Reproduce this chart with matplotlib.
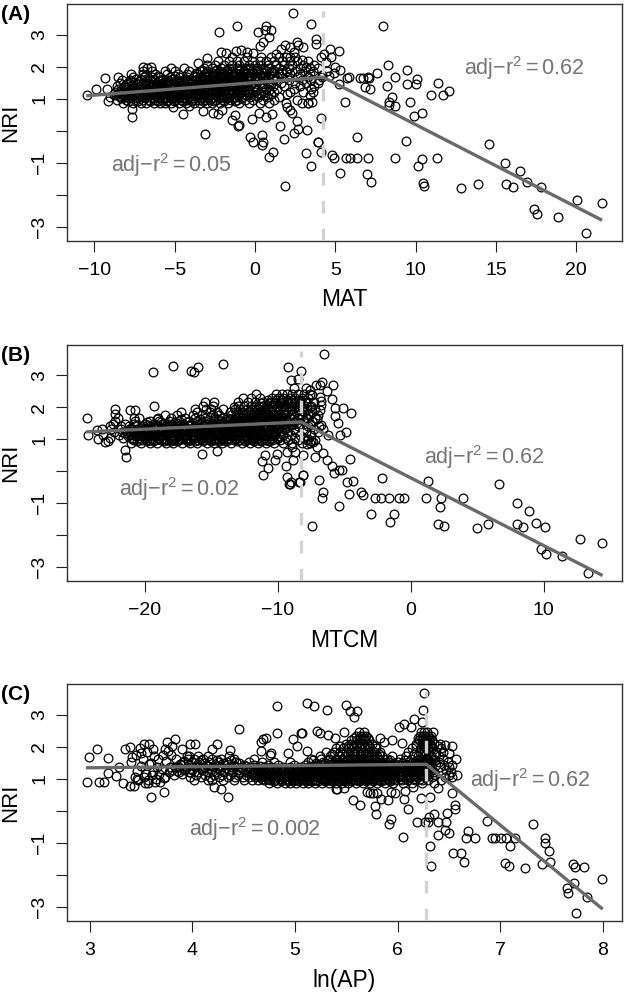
import matplotlib
matplotlib.use('Agg')
import numpy as np
import matplotlib.pyplot as plt

plt.rcParams['font.family'] = ['Liberation Sans', 'DejaVu Sans']
plt.rcParams['mathtext.fontset'] = 'custom'
plt.rcParams['mathtext.rm'] = 'Liberation Sans'
plt.rcParams['mathtext.default'] = 'rm'

W, H = 625, 992
GREY = '#6a6a6a'

# sparse points, read one by one
mat_x = [3.48, 7.97, 3.8, 3.78, 5.25, 4.67, 8.3, 9.46, 7.59, 8.71, 10.1, 9.48, 10.04, 8.19, 11.39, 12.07, 10.93, 11.72, 8.55,
         8.34, 9.63, 8.69, 8.34, 10.41, 9.87, 5.62, 7.16, 6.85, 6.53, 6.74, 7.03, 7.12, 5.87, 5.7, 5.25, 6.37, 9.4, 14.56,
         7.05, 6.37, 5.91, 5.64, 4.81, 4.9, 8.71, 10.41, 11.31, 10.12, 5.31, 7.0, 7.2, 10.46, 10.5, 12.8, 13.88, 15.56, 16.47,
         16.91, 15.64, 16.06, 17.82, 20.02, 21.58, 17.39, 17.55, 18.86, 20.58,
         2.39, -1.1, -2.24, 0.67, 0.17, 0.62, 0.98, 0.89, 0.52, 0.31, 2.6, 3.01, 2.7, 1.87, -2.14, -1.83, -1.18, -0.89, -0.52,
         -0.1, -3.01, -3.53, -6.95, -6.49, -9.36, -10.48, -9.9, -9.13, -7.65, -7.68, -4.5, -5.12, -4.1, -3.26, -2.59, -2.28,
         -2.07, -1.45, -1.24, -1.02, -1.06, -3.13, -0.2, 0.23, 0.69, 1.04, 1.56, -0.31, -0.1, 0.46, 0.48, 0.44, 1.79, 2.43,
         2.66, 2.64, 3.24, 4.09, 3.94, 3.92, 3.18, 4.11, 0.89, 1.14, 3.49, 1.85, 1.97, 2.28, 2.15, 2.9, 3.53, 3.4, 3.6, 3.3,
         4.3, 4.1, 4.4, 4.7, 5.0, 4.9, 4.5, 3.7, 3.9, 4.2, 4.6, 5.3, 3.2, 2.9, 2.4, 2.2, 1.6, 1.3]
mat_y = [3.35, 3.27, 2.87, 2.72, 2.49, 2.55, 2.06, 1.9, 1.8, 1.67, 1.6, 1.45, 1.45, 1.41, 1.5, 1.24, 1.13, 1.13, 1.06,
         0.91, 0.91, 0.77, 0.79, 0.56, 0.45, 0.89, 1.29, 1.35, 1.66, 1.65, 1.69, 1.65, 1.69, 1.65, 1.46, -0.21, -0.33, -0.42,
         -0.85, -0.87, -0.87, -0.87, -0.75, -0.85, -0.85, -0.88, -0.85, -1.1, -1.33, -1.34, -1.6, -1.63, -1.74, -1.79, -1.68, -1.02, -1.27,
         -1.62, -1.68, -1.76, -1.76, -2.16, -2.25, -2.44, -2.6, -2.69, -3.19,
         3.68, 3.28, 3.1, 3.28, 3.1, 3.15, 3.15, 2.92, 2.76, 2.66, 2.78, 2.63, 2.68, 2.68, 2.47, 2.42, 2.5, 2.52, 2.45,
         2.44, 2.26, 2.12, 2.0, 2.0, 1.66, 1.13, 1.29, 0.94, 0.67, 0.44, 0.52, 0.75, 0.77, 0.63, 0.54, 0.52,
         0.65, 0.33, 0.49, 0.18, 0.13, -0.12, 0.35, 0.56, 0.44, 0.51, 0.16, -0.19, -0.37, -0.14, -0.36, -0.45, -0.27, -0.08,
         0.04, 0.31, 0.02, 0.39, -0.34, -0.37, -0.71, -0.67, -0.83, -0.66, -1.1, -1.73, 0.75, 0.54, 0.65, 0.85, 0.91, 1.1, 1.2, 0.88,
         2.4, 2.3, 2.15, 2.3, 2.0, 1.8, 1.85, 2.05, 1.95, 1.75, 1.7, 1.9, 2.0, 2.2, 2.45, 2.6, 2.55, 2.4]

# NRI rows through the dense cloud, x estimated along each row
mat_rows = [0.88, 0.97, 1.05, 1.14, 1.22, 1.31, 1.4, 1.49, 1.58, 1.67, 1.76, 1.85, 1.95, 2.05, 2.17, 2.3,
            0.93, 1.01, 1.1, 1.18, 1.27, 1.36, 1.45, 1.54, 1.63, 1.72, 1.81, 1.91]
mat_row_x = [
    [-8.2, -7.6, -7.1, -6.8, -6.3, -5.9, -5.6, -5.2, -4.7, -4.3, -3.8, -3.4, -3.0, -2.7, -2.2, -1.7, -1.0, -0.4, 0.3, 0.9, 1.9, 3.3],
    [-8.6, -8.0, -7.4, -7.0, -6.6, -6.2, -5.8, -5.4, -5.0, -4.6, -4.2, -3.9, -3.5, -3.1, -2.8, -2.4, -2.0, -1.5, -1.1, -0.6, -0.1, 0.5, 1.2, 2.6],
    [-9.0, -8.4, -8.1, -7.7, -7.3, -7.0, -6.7, -6.4, -6.0, -5.7, -5.3, -5.1, -4.8, -4.4, -4.1, -3.7, -3.3, -3.0, -2.6, -2.3, -1.9, -1.6, -1.2, -0.8, -0.3, 0.2, 0.8, 1.5],
    [-8.8, -8.3, -7.9, -7.5, -7.2, -6.9, -6.5, -6.1, -5.8, -5.5, -5.2, -4.9, -4.5, -4.2, -3.8, -3.6, -3.2, -2.9, -2.5, -2.1, -1.8, -1.4, -1.0, -0.7, -0.2, 0.4, 1.0, 2.0],
    [-8.7, -8.2, -7.8, -7.4, -7.1, -6.7, -6.4, -6.0, -5.7, -5.4, -5.0, -4.7, -4.3, -4.0, -3.7, -3.4, -3.1, -2.7, -2.4, -2.0, -1.7, -1.3, -0.9, -0.5, 0.0, 0.6, 1.2, 2.2, 3.0],
    [-9.2, -8.5, -8.0, -7.6, -7.3, -6.9, -6.6, -6.2, -5.9, -5.6, -5.2, -4.8, -4.5, -4.2, -3.9, -3.5, -3.2, -2.8, -2.5, -2.2, -1.8, -1.5, -1.1, -0.8, -0.4, 0.1, 0.7, 1.4, 2.4, 3.5],
    [-8.6, -8.1, -7.7, -7.2, -6.8, -6.5, -6.1, -5.7, -5.3, -5.0, -4.6, -4.3, -3.9, -3.6, -3.3, -2.9, -2.6, -2.3, -1.9, -1.6, -1.2, -0.9, -0.5, 0.0, 0.5, 1.1, 1.8, 2.8, 3.7],
    [-8.4, -7.9, -7.4, -7.0, -6.6, -6.1, -5.8, -5.4, -5.1, -4.7, -4.4, -4.0, -3.7, -3.4, -3.0, -2.7, -2.4, -2.0, -1.7, -1.3, -1.0, -0.6, -0.2, 0.3, 0.9, 1.6, 2.5, 3.2, 3.9],
    [-8.3, -7.8, -7.1, -6.7, -6.2, -5.8, -5.5, -4.9, -4.5, -4.1, -3.7, -3.3, -3.0, -2.6, -2.3, -1.9, -1.6, -1.2, -0.8, -0.4, 0.0, 0.6, 1.3, 2.1, 2.9, 3.5, 4.0],
    [-8.5, -7.6, -6.9, -6.4, -5.9, -5.3, -4.7, -4.2, -3.8, -3.4, -3.0, -2.7, -2.3, -2.0, -1.6, -1.3, -0.9, -0.5, 0.0, 0.5, 0.8, 1.4, 2.0, 2.6, 3.3, 4.2],
    [-7.7, -7.0, -6.2, -5.5, -4.8, -4.2, -3.6, -3.1, -2.8, -2.4, -2.0, -1.7, -1.3, -1.0, -0.6, -0.1, 0.3, 0.9, 1.5, 2.2, 2.8, 3.4],
    [-7.0, -6.4, -5.6, -5.0, -4.1, -3.4, -3.0, -2.5, -2.2, -1.8, -1.4, -1.0, -0.7, -0.2, 0.2, 0.7, 1.2, 1.9, 2.5, 3.1, 3.6],
    [-6.7, -5.2, -4.4, -3.2, -2.7, -2.1, -1.6, -1.1, -0.6, -0.3, 0.1, 0.5, 0.9, 1.5, 2.1, 2.8, 3.4],
    [-3.0, -2.5, -1.9, -1.4, -1.0, -0.4, 0.0, 0.4, 0.8, 1.3, 1.8, 2.3, 3.0],
    [-2.3, -1.6, -1.1, -0.7, -0.2, 0.3, 0.7, 1.2, 1.7, 2.2, 2.6, 3.3],
    [-1.4, -0.5, 0.4, 1.0, 1.5, 1.9, 2.2, 2.5],
    [-7.9, -7.25, -6.55, -6.05, -5.45, -5.05, -4.45, -3.95, -3.25, -2.55, -1.95, -1.25],
    [-8.25, -7.85, -7.35, -6.85, -6.35, -5.95, -5.55, -5.15, -4.75, -4.35, -3.85, -3.45, -2.95, -2.65, -2.15, -1.75, -1.35, -0.85],
    [-8.65, -7.95, -7.55, -7.15, -6.75, -6.25, -5.85, -5.25, -4.85, -4.25, -3.75, -3.35, -3.05, -2.45, -2.05, -1.55, -1.15, -0.55, 0.05, 0.6],
    [-8.45, -8.05, -7.65, -7.05, -6.45, -6.15, -5.65, -5.35, -4.95, -4.55, -4.15, -3.55, -3.15, -2.75, -2.35, -1.85, -1.45, -0.95, -0.35, 0.25],
    [-8.35, -7.75, -7.45, -6.95, -6.65, -6.3, -5.75, -5.5, -4.9, -4.65, -4.05, -3.65, -3.35, -2.85, -2.25, -1.95, -1.5, -1.05, -0.45, 0.15, 0.85],
    [-8.15, -7.5, -7.0, -6.6, -6.1, -5.65, -5.25, -4.8, -4.4, -3.95, -3.45, -3.1, -2.65, -2.3, -1.85, -1.4, -0.95, -0.65, -0.05, 0.55],
    [-8.0, -7.35, -6.85, -6.4, -5.85, -5.45, -4.95, -4.5, -4.1, -3.55, -3.25, -2.75, -2.45, -2.05, -1.45, -1.1, -0.75, -0.25, 0.35, 1.0],
    [-7.7, -7.2, -6.5, -5.95, -5.35, -4.75, -4.25, -3.85, -3.45, -2.95, -2.55, -2.15, -1.75, -1.35, -0.85, -0.3, 0.2, 0.85],
    [-7.4, -6.55, -5.75, -5.15, -4.35, -3.6, -3.15, -2.85, -2.4, -2.1, -1.7, -1.15, -0.7, -0.25, 0.25, 1.1],
    [-6.85, -6.05, -4.95, -3.75, -3.2, -2.9, -2.5, -2.15, -1.65, -1.25, -0.8, -0.35, 0.15, 0.65, 1.2],
    [-3.7, -3.05, -2.6, -2.2, -1.5, -1.2, -0.75, -0.15, 0.55, 1.05, 1.7],
    [-3.3, -2.45, -1.75, -0.95, -0.45, 0.05, 0.6, 1.1, 1.65],
]
mat_fit_x = [-10.5, 4.25, 21.6]
mat_fit_y = [1.09, 1.67, -2.8]
mat_break = 4.25

mtcm_x = [-6.52, -8.25, -9.2, -6.69, -6.84, -5.82, -6.27, -5.92, -6.82, -6.72, -6.74, -6.84, -5.72, -5.11, -4.49, -5.67, -5.49,
          -7.07, -6.74, -6.62, -6.19, -5.32, -4.89, -7.7, -7.32, -7.07, -6.57, -7.2, -6.32, -5.94, -4.56, -5.77, -5.36, -5.14,
          -6.89, -8.07, -8.32, -9.07, -6.59, -6.69, -4.76, -4.36, -4.64, -3.74, -3.61, -2.18, -2.66, -2.23, -1.61, -0.9, -0.48,
          -5.36, -2.98, -1.23, -1.56, -7.4, 1.33, 1.13, 2.28, 2.23, 3.93, 2.08, 2.53, 4.96, 5.79, 6.67, 8.02, 8.87, 7.99, 8.42,
          9.45, 10.12, 12.71, 14.36, 9.77, 10.2, 11.4, 13.31,
          -24.36, -24.24, -23.49, -23.61, -22.98, -22.73, -22.23, -22.23, -21.48, -21.41, -21.11, -20.73, -20.8, -19.28, -19.38,
          -17.87, -16.54, -16.27, -15.97, -14.11, -15.67, -14.54, -11.08, -10.76, -11.16, -10.2, -10.95, -10.08, -9.4, -9.33,
          -9.12, -9.03, -8.37, -8.82, -9.33, -8.7, -8.95, -8.07, -7.8, -8.5, -9.0, -8.8, -7.9, -7.6, -7.4, -7.5, -7.1, -8.1]
mtcm_y = [3.68, 3.14, 3.26, 2.79, 2.69, 2.69, 2.5, 2.27, 2.32, 2.19, 2.06, 1.91, 1.97, 1.97, 1.82, 1.73, 1.5,
          1.62, 1.44, 1.33, 1.12, 1.12, 1.24, 1.02, 0.92, 0.76, 0.58, 0.45, 0.34, 0.17, 0.37, -0.07, 0.03, 0.03,
          -0.27, -0.13, -0.33, -0.39, -0.65, -0.83, -0.34, -0.32, -0.71, -0.65, -0.75, -0.2, -0.84, -0.85, -0.85, -0.85, -0.85,
          -1.1, -1.33, -1.34, -1.59, -1.72, -0.32, -0.85, -0.85, -1.11, -0.85, -1.66, -1.72, -1.78, -1.67, -0.41, -1.01, -1.26, -1.67, -1.74,
          -1.61, -1.75, -2.14, -2.25, -2.43, -2.58, -2.67, -3.18,
          1.66, 1.13, 1.02, 1.28, 0.92, 0.94, 1.94, 1.8, 0.66, 0.44, 1.91, 1.91, 1.65, 2.05, 3.1,
          3.28, 3.13, 3.1, 3.26, 3.34, 0.53, 0.64, -0.13, 0.11, 0.31, 0.34, 0.52, 0.55, 0.17, -0.18,
          -0.39, -0.33, -0.33, 0.34, 0.6, 0.6, 0.76, 0.52, 0.85, 2.9, 2.85, 2.6, 2.6, 2.55, 2.4, 0.95, 2.7, -0.13]

mtcm_rows = [0.88, 0.97, 1.05, 1.14, 1.22, 1.31, 1.4, 1.49, 1.58, 1.67, 1.76, 1.85, 1.95, 2.05, 2.17, 2.3, 2.42,
             0.93, 1.01, 1.1, 1.18, 1.27, 1.36, 1.45, 1.54, 1.63, 1.8, 2.0, 2.12, 2.24]
mtcm_row_x = [
    [-21.0, -20.3, -19.6, -19.1, -18.4, -17.9, -17.2, -16.6, -16.1, -15.3, -14.8, -14.2, -13.5, -12.7, -12.1, -11.5, -10.9, -10.3, -9.6, -8.9, -8.2, -7.6],
    [-20.8, -20.2, -19.7, -19.2, -18.8, -18.3, -17.8, -17.4, -16.9, -16.5, -16.0, -15.6, -15.1, -14.7, -14.2, -13.7, -13.3, -12.8, -12.3, -11.9, -11.4, -10.9, -10.4, -9.8, -9.2, -8.5, -7.8, -7.2],
    [-22.6, -21.6, -20.9, -20.4, -19.9, -19.5, -19.0, -18.6, -18.1, -17.7, -17.2, -16.8, -16.3, -15.9, -15.4, -15.0, -14.5, -14.1, -13.6, -13.2, -12.7, -12.3, -11.8, -11.4, -11.0, -10.5, -10.0, -9.4, -8.7, -8.0],
    [-23.1, -21.9, -21.2, -20.6, -20.1, -19.6, -19.2, -18.7, -18.3, -17.8, -17.4, -16.9, -16.5, -16.0, -15.6, -15.2, -14.7, -14.3, -13.8, -13.4, -12.9, -12.5, -12.0, -11.6, -11.1, -10.7, -10.2, -9.6, -9.0, -8.3, -7.5],
    [-22.3, -21.7, -21.0, -20.5, -20.0, -19.4, -19.0, -18.5, -18.0, -17.6, -17.1, -16.7, -16.2, -15.8, -15.3, -14.9, -14.4, -14.0, -13.5, -13.1, -12.6, -12.2, -11.7, -11.3, -10.8, -10.4, -9.9, -9.3, -8.6, -7.9, -7.0],
    [-23.2, -22.5, -21.8, -21.1, -20.6, -20.0, -19.5, -19.1, -18.6, -18.2, -17.7, -17.3, -16.8, -16.4, -15.9, -15.5, -15.0, -14.6, -14.2, -13.7, -13.3, -12.8, -12.4, -11.9, -11.5, -11.0, -10.6, -10.1, -9.5, -8.8, -8.1, -7.3],
    [-22.6, -21.8, -21.2, -20.7, -20.1, -19.6, -19.1, -18.5, -18.1, -17.6, -17.1, -16.6, -16.2, -15.7, -15.2, -14.8, -14.3, -13.9, -13.4, -13.0, -12.5, -12.1, -11.6, -11.2, -10.7, -10.3, -9.8, -9.2, -8.5, -7.7, -6.9],
    [-22.4, -21.5, -20.8, -20.0, -19.3, -18.7, -18.2, -17.7, -17.1, -16.5, -15.9, -15.4, -14.9, -14.4, -14.0, -13.5, -13.1, -12.6, -12.2, -11.8, -11.3, -10.9, -10.4, -10.0, -9.5, -8.9, -8.3, -7.6],
    [-22.2, -20.7, -19.6, -18.9, -18.2, -17.4, -16.7, -16.1, -15.5, -14.9, -14.3, -13.8, -13.3, -12.9, -12.4, -12.0, -11.5, -11.1, -10.7, -10.2, -9.8, -9.3, -8.7, -8.0, -7.4],
    [-22.0, -20.4, -19.0, -18.0, -17.0, -16.2, -15.5, -14.8, -14.2, -13.7, -13.2, -12.7, -12.3, -11.9, -11.4, -11.0, -10.6, -10.1, -9.7, -9.1, -8.5, -7.8, -7.2],
    [-18.5, -17.6, -16.4, -15.7, -14.9, -14.4, -13.5, -13.0, -12.6, -12.1, -11.7, -11.3, -10.9, -10.5, -10.0, -9.5, -9.0, -8.4, -7.7, -7.0],
    [-17.3, -16.1, -15.1, -14.6, -13.6, -13.1, -12.7, -12.2, -11.8, -11.4, -11.0, -10.6, -10.1, -9.6, -9.2, -8.6, -8.0, -7.4],
    [-16.2, -15.4, -15.0, -14.1, -13.2, -12.8, -12.3, -11.9, -11.5, -11.1, -10.7, -10.3, -9.9, -9.4, -8.9, -8.4, -7.8, -7.2],
    [-15.6, -14.9, -13.0, -12.5, -12.0, -11.6, -11.2, -10.8, -10.4, -10.0, -9.5, -9.0, -8.5, -8.0, -7.5],
    [-15.5, -14.8, -13.0, -12.2, -11.7, -11.1, -10.6, -10.2, -9.8, -9.3, -8.9, -8.4, -7.9, -7.3],
    [-12.6, -12.0, -11.3, -10.4, -10.0, -9.6, -9.1, -8.7, -8.2, -7.7],
    [-11.6, -10.1, -9.7, -9.3, -8.9, -8.5, -8.0, -7.6],
    [-20.55, -19.85, -19.35, -18.55, -18.05, -17.55, -16.75, -16.25, -15.65, -15.05, -14.45, -13.85, -13.05, -12.45, -11.75, -11.25, -10.65],
    [-20.95, -20.45, -19.95, -19.45, -18.95, -18.45, -17.95, -17.35, -16.85, -16.35, -15.75, -15.25, -14.65, -14.15, -13.65, -13.15, -12.55, -12.05, -11.55, -11.05, -10.55, -10.05],
    [-21.25, -20.65, -20.25, -19.75, -19.25, -18.85, -18.35, -17.85, -17.45, -16.95, -16.45, -15.85, -15.45, -14.95, -14.35, -13.95, -13.45, -12.95, -12.45, -11.85, -11.35, -10.85, -10.35, -9.85],
    [-21.45, -20.85, -20.35, -19.85, -19.35, -18.75, -18.25, -17.65, -17.25, -16.75, -16.15, -15.75, -15.25, -14.75, -14.25, -13.75, -13.25, -12.85, -12.35, -11.75, -11.25, -10.75, -10.25],
    [-21.35, -20.75, -20.15, -19.55, -19.05, -18.65, -18.15, -17.55, -16.95, -16.55, -16.05, -15.65, -15.05, -14.55, -14.05, -13.55, -13.05, -12.65, -12.15, -11.65, -11.15, -10.65, -10.15, -9.65],
    [-21.05, -20.25, -19.85, -19.25, -18.75, -18.35, -17.85, -17.25, -16.85, -16.25, -15.85, -15.35, -14.85, -14.45, -13.85, -13.35, -12.95, -12.45, -11.95, -11.45, -10.95, -10.45, -9.95, -9.35],
    [-20.55, -19.75, -19.05, -18.35, -17.85, -17.35, -16.65, -16.05, -15.55, -15.05, -14.55, -14.05, -13.55, -13.15, -12.65, -12.15, -11.65, -11.15, -10.55, -10.1, -9.55, -9.0],
    [-19.85, -18.75, -17.75, -16.85, -15.75, -15.1, -14.1, -13.45, -12.95, -12.55, -12.05, -11.65, -11.25, -10.75, -10.35, -9.85, -9.35, -8.75],
    [-19.1, -17.3, -15.85, -14.5, -13.55, -13.05, -12.5, -12.1, -11.65, -11.2, -10.8, -10.35, -9.9, -9.4, -8.9, -8.3],
    [-12.95, -12.4, -12.0, -11.55, -11.15, -10.7, -10.25, -9.85, -9.35, -8.85, -8.25, -7.6],
    [-13.3, -11.75, -11.3, -10.85, -10.45, -10.05, -9.55, -9.15, -8.65, -8.15, -7.55],
    [-11.25, -10.65, -10.25, -9.75, -9.25, -8.75, -8.3, -7.85],
    [-10.75, -10.15, -9.65, -9.2, -8.8, -8.35, -7.95],
]
mtcm_fit_x = [-24.4, -8.25, 14.43]
mtcm_fit_y = [1.23, 1.54, -3.27]
mtcm_break = -8.25

ap_x = [6.26, 5.12, 5.19, 5.31, 5.5, 5.54, 5.61, 5.58, 6.25, 6.16, 6.01, 6.06, 6.13, 6.24, 5.07, 4.98, 5.02, 5.12, 5.22, 5.24, 5.32,
        5.39, 5.48, 5.95, 6.04, 5.83, 5.87, 6.57, 6.53, 6.46, 6.5, 6.58, 6.53, 6.53, 5.41, 5.48, 5.57, 5.63, 5.7, 5.73, 5.76, 5.8,
        5.78, 5.79, 5.84, 5.91, 5.94, 5.98, 6.06, 6.07, 6.15, 6.1, 5.94, 5.92, 6.05, 6.19, 6.27, 6.3, 6.31, 6.36, 6.39, 6.23, 6.32,
        6.39, 6.48, 6.47, 6.56, 6.56, 6.39, 6.46, 6.5, 6.32, 6.33, 6.54, 6.62, 6.65, 6.69, 6.67, 6.76, 6.87, 6.92, 6.95, 7.01, 7.06,
        7.1, 7.15, 7.05, 7.09, 7.24, 7.32, 7.44, 7.44, 7.48, 7.41, 7.49, 7.71, 7.73, 7.82, 7.99, 7.72, 7.65, 7.66, 7.85, 7.74,
        2.99, 3.07, 3.18, 2.97, 3.09, 3.14, 3.18, 3.26, 3.29, 3.32, 3.39, 3.43, 3.34, 3.39, 3.4, 3.41, 3.46, 3.49, 3.5, 3.53, 3.58,
        3.62, 3.6, 3.72, 3.54, 3.57, 3.64, 3.69, 3.72, 3.75, 3.83, 3.8, 3.73, 3.9, 3.98, 4.03, 4.24, 4.19, 4.37, 4.46, 4.83, 4.83,
        5.06, 4.69, 4.72, 4.67, 4.67, 4.77, 4.76, 4.93, 4.19, 4.21, 4.28, 4.35, 5.4,
        3.45, 3.52, 3.56, 3.6, 3.63, 3.67, 3.71, 3.76, 3.5, 3.58, 3.66, 3.74, 3.79, 3.84, 3.88, 3.95, 3.46, 3.55, 3.62, 3.7, 3.78,
        3.86, 3.92, 3.44, 3.53, 3.61, 3.68, 3.77, 3.85, 3.93, 3.47, 3.57, 3.65, 3.73, 3.82, 3.9, 3.97]
ap_y = [3.69, 3.36, 3.27, 3.15, 3.29, 3.13, 3.13, 2.94, 3.15, 2.86, 2.63, 2.71, 2.63, 2.78, 2.44, 2.25, 2.02, 1.88, 2.49, 2.44, 2.38,
        2.26, 2.46, 2.21, 2.13, 2.26, 2.15, 1.6, 2.03, 2.05, 1.79, 1.11, 1.06, 0.54, 0.68, 0.7, 0.33, 0.18, 0.57, 0.54, 0.54, 0.54,
        0.13, -0.11, 0.35, 0.33, 0.59, 0.56, 0.35, 0.62, 0.75, 0.04, -0.27, -0.42, -0.83, -0.34, -0.36, -0.36, -0.19, -0.1, -0.34, 0.39, 0.44,
        0.7, -0.08, -0.36, 0.18, 0.04, -0.76, -0.62, -0.69, -1.12, -1.73, -1.33, -1.33, -1.6, -0.65, -0.84, -0.87, -0.32, -0.86, -0.87, -0.86, -0.86,
        -1.12, -0.86, -1.65, -1.73, -1.79, -0.41, -0.86, -1.02, -1.27, -1.67, -1.61, -1.68, -1.76, -1.76, -2.15, -2.25, -2.43, -2.59, -2.69, -3.19,
        1.69, 1.93, 1.64, 0.9, 0.9, 0.9, 1.17, 1.09, 1.36, 0.86, 0.77, 0.77, 1.93, 1.98, 1.53, 1.67, 1.0, 1.95, 1.79, 2.09, 2.09,
        1.92, 0.44, 0.57, 0.85, 0.87, 0.91, 0.91, 1.01, 2.16, 2.23, 2.02, 1.93, 1.93, 2.09, 2.09, 2.07, 1.93, 1.89, 2.55, 3.27, 2.43,
        2.43, 2.23, 2.26, 2.15, 1.85, 1.79, 1.74, 1.81, 0.96, 0.75, 0.67, 0.44, 0.68,
        1.75, 1.6, 1.82, 1.5, 1.7, 1.6, 1.75, 1.85, 1.4, 1.45, 1.35, 1.55, 1.75, 1.6, 1.45, 1.7, 1.25, 1.15, 1.2, 1.3, 1.35,
        1.4, 1.55, 1.05, 1.05, 1.1, 1.15, 1.2, 1.25, 1.3, 0.97, 0.95, 1.0, 1.05, 1.1, 1.15, 1.2]

ap_rows = [0.88, 0.96, 1.04, 1.12, 1.2, 1.28, 1.36, 1.44, 1.52, 1.62, 1.72, 1.83, 1.95, 2.08, 2.2, 2.32, 2.45,
           0.92, 1.0, 1.08, 1.16, 1.24, 1.32, 1.4, 1.48, 1.57, 1.78, 2.02, 2.26]
ap_row_x = [
    [4.75, 4.83, 4.9, 4.95, 5.01, 5.08, 5.13, 5.2, 5.26, 5.33, 5.4, 5.46, 5.52, 5.6, 5.66, 5.73, 5.8, 5.88, 5.96, 6.05, 6.14, 6.24, 6.36],
    [4.02, 4.15, 4.3, 4.41, 4.5, 4.58, 4.64, 4.7, 4.76, 4.81, 4.87, 4.92, 4.98, 5.03, 5.09, 5.15, 5.21, 5.27, 5.32, 5.38, 5.43, 5.49, 5.54, 5.59, 5.64, 5.7, 5.75, 5.81, 5.87, 5.92, 5.98, 6.04, 6.1, 6.17, 6.24, 6.3, 6.42],
    [3.98, 4.08, 4.17, 4.26, 4.35, 4.42, 4.49, 4.55, 4.61, 4.67, 4.73, 4.78, 4.84, 4.89, 4.94, 4.99, 5.05, 5.1, 5.16, 5.22, 5.28, 5.33, 5.39, 5.44, 5.5, 5.55, 5.61, 5.67, 5.72, 5.78, 5.84, 5.89, 5.95, 6.01, 6.07, 6.13, 6.2, 6.27, 6.34, 6.46],
    [4.04, 4.12, 4.21, 4.29, 4.37, 4.45, 4.52, 4.59, 4.65, 4.71, 4.76, 4.82, 4.87, 4.93, 4.97, 5.02, 5.07, 5.12, 5.18, 5.24, 5.3, 5.35, 5.41, 5.46, 5.52, 5.57, 5.63, 5.69, 5.74, 5.8, 5.86, 5.91, 5.97, 6.03, 6.09, 6.15, 6.22, 6.29, 6.37, 6.5],
    [3.87, 3.98, 4.06, 4.14, 4.23, 4.31, 4.39, 4.46, 4.53, 4.6, 4.66, 4.72, 4.79, 4.85, 4.91, 4.96, 5.01, 5.06, 5.11, 5.17, 5.23, 5.29, 5.34, 5.4, 5.45, 5.51, 5.56, 5.62, 5.68, 5.73, 5.79, 5.85, 5.9, 5.96, 6.02, 6.08, 6.14, 6.21, 6.28, 6.36, 6.52],
    [3.8, 3.92, 4.0, 4.09, 4.18, 4.27, 4.36, 4.44, 4.51, 4.57, 4.63, 4.69, 4.75, 4.8, 4.86, 4.93, 5.0, 5.04, 5.09, 5.14, 5.2, 5.25, 5.31, 5.37, 5.42, 5.48, 5.53, 5.58, 5.65, 5.71, 5.76, 5.82, 5.88, 5.93, 5.99, 6.06, 6.12, 6.19, 6.26, 6.33, 6.47],
    [3.83, 3.95, 4.03, 4.11, 4.2, 4.28, 4.38, 4.48, 4.56, 4.62, 4.7, 4.77, 4.88, 4.95, 5.05, 5.13, 5.19, 5.26, 5.35, 5.42, 5.47, 5.54, 5.6, 5.66, 5.72, 5.78, 5.83, 5.89, 5.94, 6.0, 6.06, 6.12, 6.18, 6.25, 6.31, 6.41, 6.5],
    [3.89, 3.97, 4.05, 4.13, 4.22, 4.32, 4.4, 4.5, 4.6, 4.74, 4.84, 4.99, 5.1, 5.2, 5.28, 5.36, 5.43, 5.5, 5.55, 5.61, 5.67, 5.73, 5.79, 5.85, 5.91, 5.97, 6.03, 6.09, 6.16, 6.23, 6.3, 6.38, 6.45, 6.53],
    [3.91, 4.0, 4.07, 4.16, 4.25, 4.34, 4.43, 4.55, 4.68, 4.8, 4.95, 5.13, 5.27, 5.35, 5.42, 5.48, 5.53, 5.58, 5.63, 5.69, 5.75, 5.81, 5.86, 5.92, 6.0, 6.1, 6.17, 6.24, 6.31, 6.4, 6.49],
    [3.96, 4.02, 4.1, 4.19, 4.28, 4.41, 4.6, 5.16, 5.25, 5.33, 5.4, 5.46, 5.51, 5.56, 5.6, 5.65, 5.7, 5.76, 5.82, 5.9, 6.02, 6.13, 6.21, 6.28, 6.35, 6.44],
    [3.97, 4.06, 4.15, 4.36, 5.24, 5.34, 5.43, 5.49, 5.54, 5.59, 5.64, 5.69, 5.74, 5.8, 5.85, 5.95, 6.08, 6.2, 6.27, 6.33, 6.4],
    [5.3, 5.38, 5.44, 5.5, 5.56, 5.61, 5.66, 5.71, 5.77, 5.83, 6.1, 6.22, 6.26, 6.31, 6.38, 6.44],
    [5.4, 5.47, 5.53, 5.58, 5.63, 5.68, 5.73, 5.79, 6.14, 6.23, 6.27, 6.3, 6.34, 6.42],
    [5.5, 5.55, 5.6, 5.65, 5.7, 5.75, 6.18, 6.24, 6.27, 6.29, 6.32, 6.36, 6.41],
    [5.55, 5.61, 5.64, 5.68, 5.72, 6.21, 6.25, 6.27, 6.29, 6.31, 6.34],
    [5.6, 5.63, 5.66, 5.69, 6.22, 6.25, 6.27, 6.3, 6.33],
    [5.62, 5.67, 6.23, 6.26, 6.29, 6.35],
    [4.8, 4.86, 4.93, 4.98, 5.04, 5.11, 5.17, 5.23, 5.29, 5.36, 5.42, 5.48, 5.55, 5.62, 5.69, 5.76, 5.84, 5.93],
    [4.68, 4.74, 4.79, 4.85, 4.91, 4.97, 5.0, 5.06, 5.12, 5.18, 5.25, 5.3, 5.36, 5.41, 5.47, 5.52, 5.57, 5.62, 5.67, 5.73, 5.78, 5.84, 5.9, 5.96, 6.02, 6.08, 6.15, 6.22],
    [4.62, 4.69, 4.75, 4.8, 4.86, 4.92, 4.96, 5.02, 5.07, 5.13, 5.19, 5.24, 5.31, 5.37, 5.43, 5.49, 5.54, 5.6, 5.65, 5.71, 5.77, 5.82, 5.88, 5.94, 6.0, 6.05, 6.11, 6.18, 6.26],
    [4.6, 4.66, 4.72, 4.78, 4.84, 4.9, 4.95, 5.0, 5.06, 5.11, 5.17, 5.23, 5.28, 5.34, 5.4, 5.45, 5.51, 5.56, 5.62, 5.68, 5.74, 5.79, 5.85, 5.91, 5.97, 6.03, 6.09, 6.16, 6.23, 6.31],
    [4.56, 4.63, 4.7, 4.77, 4.83, 4.88, 4.94, 5.03, 5.08, 5.14, 5.21, 5.27, 5.32, 5.38, 5.44, 5.5, 5.55, 5.61, 5.66, 5.72, 5.77, 5.83, 5.89, 5.95, 6.01, 6.07, 6.13, 6.2, 6.28],
    [4.1, 4.24, 4.33, 4.47, 4.54, 4.65, 4.74, 4.82, 5.02, 5.1, 5.16, 5.22, 5.3, 5.36, 5.43, 5.49, 5.54, 5.59, 5.64, 5.7, 5.75, 5.81, 5.87, 5.93, 5.99, 6.05, 6.11, 6.17, 6.24, 6.32],
    [4.04, 4.15, 4.26, 4.42, 4.52, 4.66, 5.15, 5.23, 5.31, 5.39, 5.45, 5.51, 5.56, 5.62, 5.68, 5.74, 5.79, 5.84, 5.9, 5.96, 6.02, 6.1, 6.16, 6.22, 6.29],
    [4.12, 4.3, 4.46, 5.21, 5.29, 5.37, 5.44, 5.52, 5.57, 5.61, 5.66, 5.72, 5.77, 5.83, 5.88, 5.97, 6.04, 6.14, 6.2, 6.26, 6.33],
    [4.08, 4.24, 4.38, 5.18, 5.32, 5.41, 5.47, 5.52, 5.57, 5.62, 5.67, 5.71, 5.78, 5.82, 5.93, 6.07, 6.19, 6.24, 6.3, 6.37],
    [5.36, 5.46, 5.52, 5.58, 5.64, 5.7, 5.76, 5.82, 6.16, 6.24, 6.28, 6.36],
    [5.44, 5.52, 5.57, 5.62, 5.67, 5.72, 5.78, 6.18, 6.25, 6.28, 6.33, 6.39],
    [5.58, 5.63, 5.67, 5.71, 6.2, 6.24, 6.28, 6.32],
]
ap_fit_x = [2.964, 6.28, 8.0]
ap_fit_y = [1.34, 1.45, -3.08]
ap_break = 6.28


def add_panel(frame, xlim, xticks, xs, ys, rows, row_x, fit_x, fit_y, brk, brk_top, xlabel, tag, texts):
    l, t, r, b = frame
    ax = fig.add_axes([l / W, 1 - b / H, (r - l) / W, (b - t) / H])
    all_x = list(xs)
    all_y = list(ys)
    for lev, vals in zip(rows, row_x):
        all_x += vals
        all_y += [lev] * len(vals)
    ax.plot(all_x, all_y, 'o', ms=6.3, mfc='none', mec='black', mew=0.9, zorder=2)
    ax.plot([brk, brk], [-3.45, brk_top], color='#d2d2d2', lw=2.4, dashes=(3.8, 4.6), dash_capstyle='butt', zorder=3)
    ax.plot(fit_x, fit_y, color=GREY, lw=2.4, zorder=4, solid_capstyle='butt')
    ax.set_xlim(*xlim)
    ax.set_ylim(-3.45, 3.96)
    ax.set_xticks(xticks)
    ax.set_xticklabels([str(v).replace('-', '\u2212') for v in xticks])
    ax.set_yticks([-3, -2, -1, 0, 1, 2, 3])
    ax.set_yticklabels(['\u22123', '', '\u22121', '', '1', '2', '3'], rotation=90, va='center')
    ax.tick_params(axis='x', length=8, width=0.8, labelsize=14, pad=7, color='#222222')
    ax.tick_params(axis='y', length=8, width=0.8, labelsize=14, pad=5, color='#222222')
    for sp in ax.spines.values():
        sp.set_linewidth(1.0)
        sp.set_color('#333333')
    ax.set_xlabel(xlabel, fontsize=16.5, va='baseline')
    ax.xaxis.set_label_coords(0.5, -65.5 / (b - t))
    ax.set_ylabel('NRI', fontsize=16, va='center')
    ax.yaxis.set_label_coords((11 - l) / (r - l), 0.5)
    fig.text(1 / W, 1 - (t + 11) / H, tag, fontsize=15, fontweight='bold', va='center', ha='left')
    for px, py, s in texts:
        fig.text(px / W, 1 - py / H, s, fontsize=15.5, color='#757575', ha='left', va='baseline')
    return ax


fig = plt.figure(figsize=(W / 100, H / 100), dpi=100)

add_panel((66.5, 4, 622, 241), (-11.73, 22.84), [-10, -5, 0, 5, 10, 15, 20],
          mat_x, mat_y, mat_rows, mat_row_x, mat_fit_x, mat_fit_y, mat_break, 3.75, 'MAT', '(A)',
          [(110.7, 171.7, r'adj$-$r$^2$$\,$=$\,$0.05'), (464, 75.3, r'adj$-$r$^2$$\,$=$\,$0.62')])
add_panel((66.5, 344.7, 622, 581.3), (-25.88, 15.89), [-20, -10, 0, 10],
          mtcm_x, mtcm_y, mtcm_rows, mtcm_row_x, mtcm_fit_x, mtcm_fit_y, mtcm_break, 3.75, 'MTCM', '(B)',
          [(119.3, 496, r'adj$-$r$^2$$\,$=$\,$0.02'), (424.3, 464, r'adj$-$r$^2$$\,$=$\,$0.62')])
add_panel((66.5, 684, 622, 921), (2.774, 8.188), [3, 4, 5, 6, 7, 8],
          ap_x, ap_y, ap_rows, ap_row_x, ap_fit_x, ap_fit_y, ap_break, 3.75, 'ln(AP)', '(C)',
          [(188.7, 836, r'adj$-$r$^2$$\,$=$\,$0.002'), (470, 787, r'adj$-$r$^2$$\,$=$\,$0.62')])

plt.savefig('out.png', dpi=100)
